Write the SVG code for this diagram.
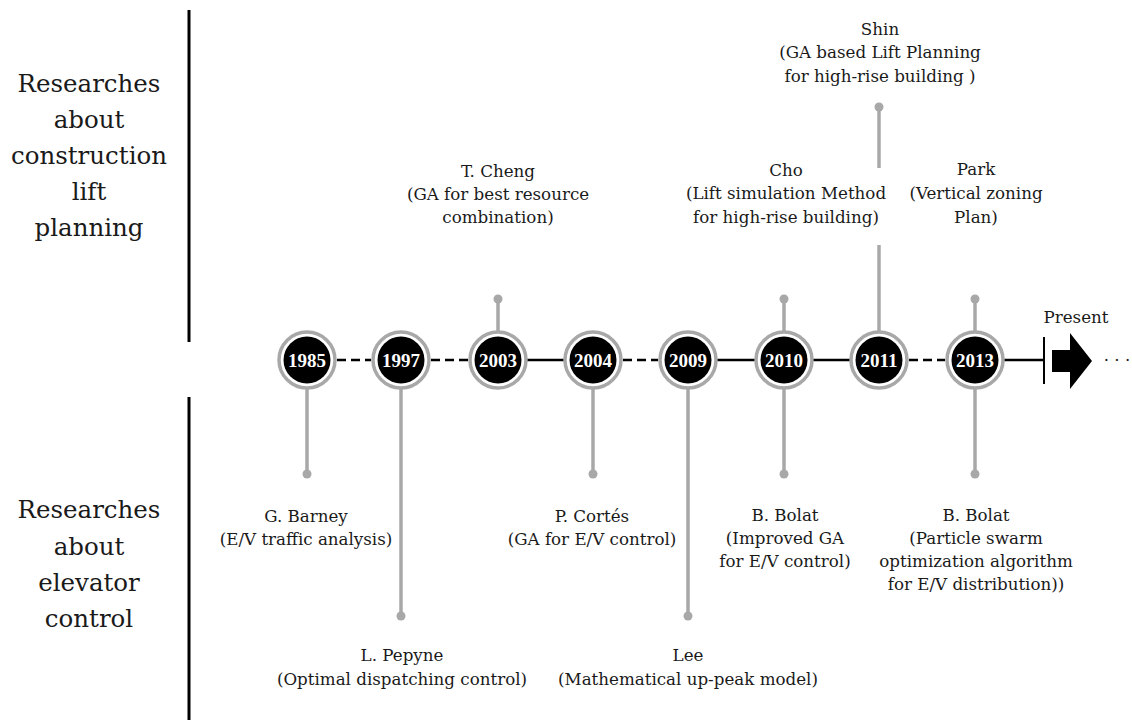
<svg xmlns="http://www.w3.org/2000/svg" width="1132" height="722" viewBox="0 0 1132 722">
<style>
text{fill:#1a1a1a;text-anchor:middle;font-family:"DejaVu Serif",serif;font-weight:400}
.hd{font-size:24.5px}
.lbl{font-size:16.7px}
.yr{font-size:19px;font-weight:bold;fill:#fff;font-family:"Liberation Serif","DejaVu Serif",serif}
.ring{fill:#fff;stroke:#a8a8a8;stroke-width:3.5}
.core{fill:#000}
.stem{stroke:#a8a8a8;stroke-width:3.5;fill:none}
.dot{fill:#a8a8a8}
.solid{stroke:#000;stroke-width:2.5;fill:none}
.dash{stroke:#000;stroke-width:2.5;fill:none;stroke-dasharray:9 5}
.axis{stroke:#000;stroke-width:3;fill:none}
</style>
<rect width="1132" height="722" fill="#fff"/>

<g id="section-dividers">
<line class="axis" x1="189" y1="10" x2="189" y2="342"/>
<line class="axis" x1="189" y1="397" x2="189" y2="720"/>
</g>

<g id="heading-top">
<text class="hd" x="89" y="92">Researches</text>
<text class="hd" x="89" y="128">about</text>
<text class="hd" x="89" y="164">construction</text>
<text class="hd" x="89" y="200">lift</text>
<text class="hd" x="89" y="236">planning</text>
</g>
<g id="heading-bottom">
<text class="hd" x="89" y="518">Researches</text>
<text class="hd" x="89" y="555">about</text>
<text class="hd" x="89" y="591">elevator</text>
<text class="hd" x="89" y="627">control</text>
</g>

<g id="connectors">
<line class="dash" x1="337" y1="360" x2="371" y2="360"/>
<line class="dash" x1="431" y1="360" x2="468" y2="360"/>
<line class="solid" x1="498" y1="360" x2="593" y2="360"/>
<line class="dash" x1="623" y1="360" x2="658" y2="360"/>
<line class="solid" x1="688" y1="360" x2="879" y2="360"/>
<line class="dash" x1="909" y1="360" x2="945" y2="360"/>
<line class="solid" x1="975" y1="360" x2="1044" y2="360"/>
<line x1="1044" y1="337" x2="1044" y2="384" stroke="#000" stroke-width="2"/>
<polygon points="1052,350 1070,350 1070,333 1092,361 1070,389 1070,372 1052,372" fill="#000"/>

<line class="stem" x1="307" y1="388" x2="307" y2="474"/><circle class="dot" cx="307" cy="474" r="4.5"/>
<line class="stem" x1="401" y1="388" x2="401" y2="616"/><circle class="dot" cx="401" cy="616" r="4.5"/>
<line class="stem" x1="498" y1="332" x2="498" y2="299"/><circle class="dot" cx="498" cy="299" r="4.5"/>
<line class="stem" x1="593" y1="388" x2="593" y2="474"/><circle class="dot" cx="593" cy="474" r="4.5"/>
<line class="stem" x1="688" y1="388" x2="688" y2="616"/><circle class="dot" cx="688" cy="616" r="4.5"/>
<line class="stem" x1="784" y1="332" x2="784" y2="299"/><circle class="dot" cx="784" cy="299" r="4.5"/>
<line class="stem" x1="784" y1="388" x2="784" y2="474"/><circle class="dot" cx="784" cy="474" r="4.5"/>
<line class="stem" x1="879" y1="332" x2="879" y2="245"/>
<line class="stem" x1="879" y1="168" x2="879" y2="107"/><circle class="dot" cx="879" cy="107" r="4.5"/>
<line class="stem" x1="975" y1="332" x2="975" y2="299"/><circle class="dot" cx="975" cy="299" r="4.5"/>
<line class="stem" x1="975" y1="388" x2="975" y2="474"/><circle class="dot" cx="975" cy="474" r="4.5"/>
</g>

<g id="y1985"><circle class="ring" cx="307" cy="360" r="28"/><circle class="core" cx="307" cy="360" r="23.5"/><text class="yr" x="307" y="367">1985</text></g>
<g id="y1997"><circle class="ring" cx="401" cy="360" r="28"/><circle class="core" cx="401" cy="360" r="23.5"/><text class="yr" x="401" y="367">1997</text></g>
<g id="y2003"><circle class="ring" cx="498" cy="360" r="28"/><circle class="core" cx="498" cy="360" r="23.5"/><text class="yr" x="498" y="367">2003</text></g>
<g id="y2004"><circle class="ring" cx="593" cy="360" r="28"/><circle class="core" cx="593" cy="360" r="23.5"/><text class="yr" x="593" y="367">2004</text></g>
<g id="y2009"><circle class="ring" cx="688" cy="360" r="28"/><circle class="core" cx="688" cy="360" r="23.5"/><text class="yr" x="688" y="367">2009</text></g>
<g id="y2010"><circle class="ring" cx="784" cy="360" r="28"/><circle class="core" cx="784" cy="360" r="23.5"/><text class="yr" x="784" y="367">2010</text></g>
<g id="y2011"><circle class="ring" cx="879" cy="360" r="28"/><circle class="core" cx="879" cy="360" r="23.5"/><text class="yr" x="879" y="367">2011</text></g>
<g id="y2013"><circle class="ring" cx="975" cy="360" r="28"/><circle class="core" cx="975" cy="360" r="23.5"/><text class="yr" x="975" y="367">2013</text></g>

<g id="present">
<text class="lbl" x="1076" y="323">Present</text>
<text class="lbl" x="1117" y="366">· · ·</text>
</g>

<g id="cheng">
<text class="lbl" x="498" y="177">T. Cheng</text>
<text class="lbl" x="498" y="200">(GA for best resource</text>
<text class="lbl" x="498" y="223">combination)</text>
</g>
<g id="cho">
<text class="lbl" x="786" y="176">Cho</text>
<text class="lbl" x="786" y="199">(Lift simulation Method</text>
<text class="lbl" x="786" y="223">for high-rise building)</text>
</g>
<g id="shin">
<text class="lbl" x="880" y="35">Shin</text>
<text class="lbl" x="880" y="58">(GA based Lift Planning</text>
<text class="lbl" x="880" y="82">for high-rise building )</text>
</g>
<g id="park">
<text class="lbl" x="976" y="175">Park</text>
<text class="lbl" x="976" y="199">(Vertical zoning</text>
<text class="lbl" x="976" y="223">Plan)</text>
</g>

<g id="barney">
<text class="lbl" x="306" y="522">G. Barney</text>
<text class="lbl" x="306" y="545">(E/V traffic analysis)</text>
</g>
<g id="pepyne">
<text class="lbl" x="402" y="661">L. Pepyne</text>
<text class="lbl" x="402" y="685">(Optimal dispatching control)</text>
</g>
<g id="cortes">
<text class="lbl" x="592" y="522">P. Cortés</text>
<text class="lbl" x="592" y="545">(GA for E/V control)</text>
</g>
<g id="lee">
<text class="lbl" x="688" y="661">Lee</text>
<text class="lbl" x="688" y="685">(Mathematical up-peak model)</text>
</g>
<g id="bolat2010">
<text class="lbl" x="785" y="521">B. Bolat</text>
<text class="lbl" x="785" y="544">(Improved GA</text>
<text class="lbl" x="785" y="567">for E/V control)</text>
</g>
<g id="bolat2013">
<text class="lbl" x="976" y="521">B. Bolat</text>
<text class="lbl" x="976" y="544">(Particle swarm</text>
<text class="lbl" x="976" y="567">optimization algorithm</text>
<text class="lbl" x="976" y="590">for E/V distribution))</text>
</g>
</svg>
